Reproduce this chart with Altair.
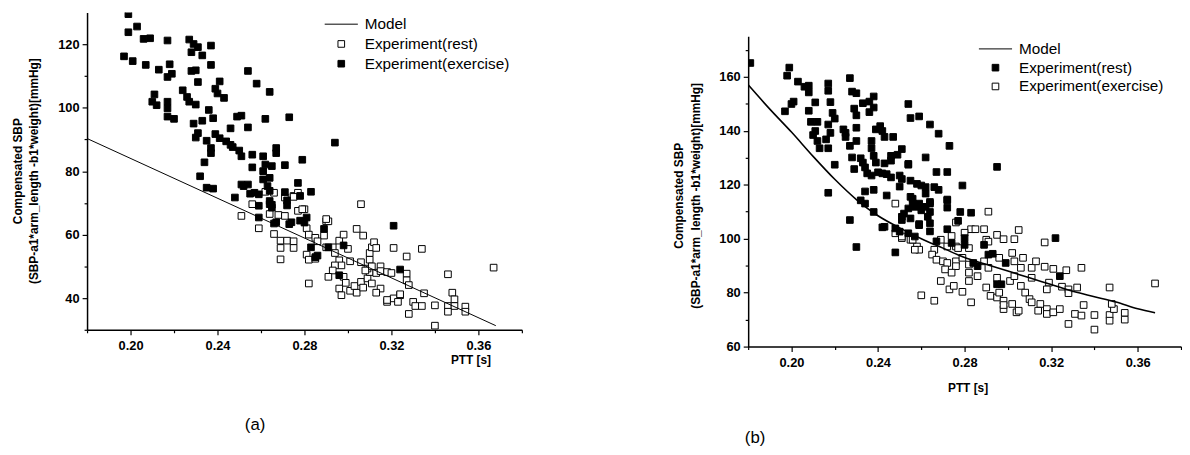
import altair as alt
import pandas as pd

# ---------------- data ----------------
SERIES = ["Model", "Experiment(rest)", "Experiment(exercise)"]

# panel (a)
left_rest_x = [0.251, 0.259, 0.256, 0.266, 0.275, 0.277, 0.264, 0.268, 0.271, 0.277, 0.280, 0.271,
               0.266, 0.269, 0.272, 0.275, 0.269, 0.275, 0.269, 0.281, 0.282, 0.285, 0.289, 0.290,
               0.291, 0.286, 0.290, 0.293, 0.281, 0.282, 0.285, 0.294, 0.296, 0.298, 0.300, 0.296,
               0.297, 0.301, 0.294, 0.293, 0.291, 0.298, 0.299, 0.296, 0.297, 0.301, 0.304, 0.303,
               0.306, 0.307, 0.309, 0.311, 0.315, 0.313, 0.310, 0.309, 0.304, 0.307, 0.306, 0.306,
               0.308, 0.310, 0.310, 0.311, 0.312, 0.313, 0.311, 0.315, 0.313, 0.315, 0.318, 0.320,
               0.321, 0.327, 0.327, 0.327, 0.334, 0.324, 0.321, 0.318, 0.323, 0.330, 0.331, 0.334,
               0.328, 0.335, 0.340, 0.340, 0.346, 0.348, 0.349, 0.346, 0.349, 0.346, 0.354, 0.354,
               0.367, 0.262, 0.275, 0.279, 0.290, 0.282, 0.328, 0.324, 0.318]
left_rest_y = [65.9, 62.0, 69.6, 73.2, 72.2, 73.2, 66.5, 66.2, 65.9, 67.5, 68.0, 71.7,
               60.2, 58.1, 58.1, 57.9, 55.8, 55.8, 52.2, 62.0, 60.0, 59.0, 59.7, 64.2,
               64.2, 57.9, 56.0, 56.0, 53.7, 52.1, 52.4, 54.2, 58.1, 60.0, 55.5, 51.9,
               50.3, 51.6, 50.3, 48.7, 46.7, 46.7, 44.8, 43.0, 40.9, 42.3, 41.7, 43.8,
               45.1, 43.3, 46.2, 44.6, 43.0, 41.7, 48.2, 49.3, 61.8, 59.7, 69.6, 51.3,
               48.7, 52.1, 54.2, 56.0, 57.6, 55.8, 50.0, 50.0, 47.9, 48.5, 48.2, 47.9,
               55.8, 53.1, 47.7, 45.6, 55.5, 40.9, 39.9, 38.8, 38.8, 38.8, 37.5, 37.5,
               35.0, 41.5, 37.7, 31.3, 47.5, 41.7, 39.6, 37.5, 37.5, 35.7, 37.3, 35.7,
               49.6, 73.5, 71.9, 68.0, 64.9, 44.6, 44.1, 41.2, 39.4]
left_ex_x = [0.199, 0.199, 0.203, 0.197, 0.201, 0.206, 0.209, 0.207, 0.213, 0.217, 0.218, 0.219,
             0.217, 0.211, 0.210, 0.212, 0.217, 0.217, 0.217, 0.220, 0.227, 0.229, 0.228, 0.231,
             0.233, 0.237, 0.237, 0.228, 0.230, 0.231, 0.224, 0.226, 0.227, 0.230, 0.239, 0.240,
             0.241, 0.243, 0.236, 0.238, 0.229, 0.233, 0.231, 0.230, 0.235, 0.237, 0.237, 0.234,
             0.232, 0.235, 0.238, 0.239, 0.241, 0.244, 0.246, 0.247, 0.250, 0.251, 0.246, 0.249,
             0.251, 0.254, 0.254, 0.258, 0.264, 0.262, 0.273, 0.248, 0.251, 0.254, 0.252, 0.255,
             0.257, 0.259, 0.256, 0.256, 0.261, 0.262, 0.261, 0.261, 0.264, 0.263, 0.264, 0.264,
             0.265, 0.267, 0.267, 0.265, 0.271, 0.271, 0.272, 0.277, 0.279, 0.283, 0.278, 0.294,
             0.259, 0.259, 0.265, 0.272, 0.266, 0.273, 0.281, 0.280, 0.289, 0.283, 0.286, 0.291,
             0.298, 0.296, 0.321, 0.324, 0.285, 0.264, 0.267, 0.274, 0.278]
left_ex_y = [129.5, 123.8, 125.6, 116.2, 114.7, 121.7, 121.9, 113.5, 112.0, 121.2, 113.7, 110.7,
             109.7, 104.2, 101.9, 100.8, 101.9, 99.8, 97.2, 96.5, 121.5, 120.1, 117.5, 119.1,
             116.5, 119.6, 113.5, 111.6, 111.8, 108.1, 105.5, 103.4, 101.9, 101.0, 106.0, 104.5,
             108.3, 103.1, 99.3, 96.7, 95.0, 95.9, 92.0, 90.6, 89.6, 87.3, 85.7, 82.8,
             78.4, 74.8, 74.5, 91.7, 90.4, 89.4, 88.3, 87.6, 86.5, 84.7, 93.5, 97.2,
             97.5, 93.8, 111.6, 107.6, 105.0, 96.5, 97.0, 71.7, 75.8, 75.8, 75.3, 72.9,
             73.2, 72.7, 85.2, 81.2, 84.7, 82.1, 80.0, 77.4, 77.9, 75.3, 73.8, 70.6,
             68.5, 87.3, 85.7, 81.6, 81.9, 73.4, 70.8, 76.3, 83.6, 73.5, 72.2, 89.0,
             65.4, 69.1, 69.4, 69.2, 63.5, 63.3, 65.4, 63.8, 61.8, 56.0, 53.4, 56.0,
             56.6, 47.2, 62.8, 49.0, 52.9, 69.6, 63.9, 63.9, 64.4]
left_model_x = [0.18, 0.368]
left_model_y = [90.3, 31.3]

# panel (b)
right_rest_x = [0.181, 0.199, 0.198, 0.203, 0.206, 0.208, 0.208, 0.201, 0.200, 0.197, 0.211, 0.208,
                0.209, 0.212, 0.211, 0.210, 0.212, 0.213, 0.217, 0.217, 0.218, 0.219, 0.220, 0.217,
                0.218, 0.216, 0.217, 0.220, 0.217, 0.224, 0.225, 0.225, 0.227, 0.227, 0.228, 0.230,
                0.229, 0.230, 0.233, 0.236, 0.238, 0.238, 0.236, 0.230, 0.230, 0.237, 0.241, 0.242,
                0.243, 0.247, 0.239, 0.237, 0.238, 0.239, 0.228, 0.232, 0.233, 0.229, 0.234, 0.235,
                0.237, 0.240, 0.242, 0.243, 0.246, 0.246, 0.249, 0.251, 0.254, 0.244, 0.246, 0.250,
                0.251, 0.255, 0.258, 0.260, 0.262, 0.266, 0.268, 0.250, 0.234, 0.238, 0.244, 0.254,
                0.255, 0.259, 0.264, 0.268, 0.262, 0.273, 0.267, 0.272, 0.279, 0.272, 0.272, 0.278,
                0.283, 0.232, 0.234, 0.238, 0.227, 0.243, 0.255, 0.256, 0.254, 0.257, 0.259, 0.260,
                0.262, 0.264, 0.264, 0.252, 0.251, 0.255, 0.259, 0.264, 0.263, 0.248, 0.230, 0.242,
                0.248, 0.250, 0.254, 0.257, 0.254, 0.295, 0.262, 0.256, 0.264, 0.258, 0.272, 0.277,
                0.251, 0.259, 0.272, 0.264, 0.280, 0.267, 0.274, 0.280, 0.289, 0.291, 0.293, 0.299,
                0.284, 0.286, 0.295, 0.297, 0.322, 0.324]
right_rest_y = [165.1, 163.4, 160.4, 158.2, 156.3, 156.7, 154.2, 150.8, 149.9, 147.2, 150.5, 147.4,
                143.3, 143.3, 139.9, 138.4, 136.2, 133.5, 157.5, 154.8, 150.6, 146.6, 144.5, 142.3,
                139.2, 136.8, 133.5, 127.4, 117.0, 140.5, 139.2, 137.7, 134.4, 159.5, 154.5, 153.9,
                148.2, 145.7, 150.2, 150.8, 152.7, 148.6, 146.9, 141.1, 136.2, 136.2, 141.7, 139.9,
                137.7, 137.7, 140.5, 133.5, 130.7, 128.2, 130.1, 129.8, 128.2, 125.8, 126.4, 124.2,
                123.4, 124.6, 124.2, 127.9, 130.7, 128.9, 131.1, 133.2, 127.7, 123.9, 122.7, 123.4,
                122.1, 121.5, 120.3, 119.7, 119.1, 119.1, 118.1, 119.3, 117.5, 118.1, 116.0, 149.9,
                144.7, 145.3, 142.3, 138.9, 130.1, 134.4, 124.7, 124.7, 119.7, 114.2, 111.5, 109.9,
                109.6, 114.2, 113.0, 109.9, 106.9, 104.4, 115.5, 113.0, 111.2, 111.8, 113.0, 110.5,
                111.8, 113.0, 109.9, 109.3, 108.1, 107.5, 105.4, 105.7, 108.1, 103.8, 96.9, 104.2,
                94.9, 102.6, 102.0, 100.8, 127.4, 126.6, 116.7, 114.8, 113.6, 112.4, 114.5, 106.6,
                106.9, 105.0, 103.5, 102.7, 100.2, 99.0, 98.4, 97.7, 97.7, 94.1, 94.4, 91.0,
                91.0, 89.8, 83.1, 83.1, 100.2, 86.1]
right_ex_x = [0.291, 0.283, 0.285, 0.289, 0.276, 0.280, 0.274, 0.251, 0.255, 0.258, 0.259, 0.269,
              0.272, 0.276, 0.277, 0.282, 0.266, 0.265, 0.267, 0.270, 0.272, 0.276, 0.279, 0.282,
              0.276, 0.271, 0.274, 0.282, 0.286, 0.282, 0.269, 0.273, 0.275, 0.279, 0.260, 0.266,
              0.283, 0.290, 0.292, 0.295, 0.296, 0.298, 0.298, 0.298, 0.302, 0.304, 0.305, 0.295,
              0.301, 0.303, 0.306, 0.308, 0.310, 0.311, 0.315, 0.314, 0.318, 0.318, 0.321, 0.324,
              0.328, 0.331, 0.334, 0.335, 0.340, 0.340, 0.347, 0.347, 0.349, 0.354, 0.354, 0.348,
              0.347, 0.368, 0.302, 0.303, 0.307, 0.306, 0.311, 0.313, 0.311, 0.317, 0.321, 0.327,
              0.334, 0.319, 0.318, 0.325, 0.328, 0.332, 0.328, 0.295, 0.298, 0.303, 0.305, 0.317,
              0.290, 0.291, 0.289, 0.291, 0.296, 0.248, 0.251, 0.256, 0.257, 0.248]
right_ex_y = [110.0, 103.5, 103.5, 103.5, 106.0, 102.2, 101.0, 100.2, 99.6, 97.1, 95.9, 99.6,
              97.1, 97.1, 96.5, 96.5, 95.9, 94.1, 92.2, 91.6, 91.0, 91.6, 92.9, 90.4,
              89.8, 88.6, 87.4, 87.4, 86.1, 84.3, 84.3, 81.2, 82.5, 80.3, 79.0, 77.0,
              76.4, 81.9, 78.8, 78.2, 80.0, 77.0, 73.9, 75.4, 75.8, 72.7, 73.3, 85.5,
              84.3, 86.1, 82.5, 80.0, 77.6, 76.4, 75.8, 73.3, 73.9, 72.1, 72.7, 73.9,
              68.4, 72.1, 71.5, 75.4, 71.7, 66.3, 71.7, 69.6, 73.9, 72.5, 70.0, 75.8,
              81.9, 83.4, 94.7, 91.6, 92.9, 89.2, 89.2, 91.6, 85.5, 89.6, 88.8, 88.3,
              89.2, 83.7, 81.2, 82.2, 81.2, 81.9, 79.8, 101.4, 99.8, 99.8, 103.2, 98.6,
              99.6, 98.9, 91.6, 89.2, 92.9, 102.0, 100.8, 99.6, 95.9, 113.0]
right_model_x = [0.18, 0.19, 0.20, 0.21, 0.22, 0.23, 0.24, 0.25, 0.26, 0.27, 0.28, 0.29,
                 0.30, 0.31, 0.32, 0.33, 0.34, 0.35, 0.36, 0.368]
right_model_y = [157, 148, 139.5, 130.5, 122, 114.5, 108.5, 104, 100, 96.5, 93, 90.5,
                 88, 85.5, 83, 80.5, 78.5, 76.5, 74, 72.5]

x_ticks = [0.18, 0.20, 0.22, 0.24, 0.26, 0.28, 0.30, 0.32, 0.34, 0.36, 0.38]
left_y_ticks = [30, 40, 50, 60, 70, 80, 90, 100, 110, 120]
right_y_ticks = [60, 70, 80, 90, 100, 110, 120, 130, 140, 150, 160, 170]

FONT = "Liberation Sans"
X_MAJOR = "round(datum.value*100) % 4 == 0"
Y_MAJOR = "round(datum.value) % 20 == 0"


def panel(open_x, open_y, open_name, fill_x, fill_y, fill_name, mx, my,
          ydom, yticks, width, height, yrange, fill_range, ytitle_y,
          xtitle_x, xtitle_y, leg_x, leg_y, row_pad, label, label_dx,
          label_offset, line_w):
    pts = pd.DataFrame({
        "ptt": open_x + fill_x,
        "sbp": open_y + fill_y,
        "series": [open_name] * len(open_x) + [fill_name] * len(fill_x),
    })
    model = pd.DataFrame({"ptt": mx, "sbp": my})

    xs = alt.Scale(domain=[0.18, 0.38], nice=False, zero=False)
    ys = alt.Scale(domain=ydom, nice=False, zero=False, range=yrange)

    common = dict(grid=False, domainColor="black", domainWidth=1.5,
                  tickColor="black", tickWidth=1.2, labelColor="black",
                  labelFont=FONT, labelFontSize=13, labelFontWeight="bold",
                  labelFlush=False, labelOverlap=False,
                  titleFont=FONT, titleFontSize=12, titleFontWeight="bold",
                  titleColor="black")
    xaxis = alt.Axis(values=x_ticks, title="PTT [s]", labelPadding=5,
                     labelExpr=f"{X_MAJOR} ? format(datum.value, '.2f') : ''",
                     tickSize={"condition": {"test": X_MAJOR, "value": 5}, "value": 3},
                     titleX=xtitle_x, titleY=xtitle_y, **common)
    yaxis = alt.Axis(values=yticks, labelPadding=3,
                     title=["Compensated SBP", "(SBP-a1*arm_length -b1*weight)[mmHg]"],
                     labelExpr=f"{Y_MAJOR} ? format(datum.value, 'd') : ''",
                     tickSize={"condition": {"test": Y_MAJOR, "value": 5}, "value": 3},
                     titlePadding=17, titleLineHeight=17, titleY=ytitle_y, **common)

    leg = alt.Legend(title=None, orient="none", legendX=leg_x, legendY=leg_y,
                     symbolSize=45, symbolStrokeColor="black", symbolStrokeWidth=1,
                     symbolOpacity=1, labelFont=FONT, labelFontSize=15.5,
                     labelColor="black", labelOffset=16, labelLimit=400,
                     rowPadding=row_pad, padding=0)

    points = alt.Chart(pts).mark_point(
        filled=True, strokeWidth=1, size=45, opacity=1, clip=True
    ).encode(
        x=alt.X("ptt:Q", scale=xs, axis=xaxis),
        y=alt.Y("sbp:Q", scale=ys, axis=yaxis),
        shape=alt.Shape("series:N",
                        scale=alt.Scale(domain=SERIES,
                                        range=["M-5,0L5,0", "square", "square"]),
                        legend=leg),
        fill=alt.Fill("series:N",
                      scale=alt.Scale(domain=SERIES, range=fill_range),
                      legend=leg),
        stroke=alt.Stroke("series:N",
                          scale=alt.Scale(domain=SERIES,
                                          range=["black", "black", "black"]),
                          legend=leg),
    )
    line = alt.Chart(model).mark_line(
        color="black", strokeWidth=line_w, interpolate="monotone", clip=True
    ).encode(x=alt.X("ptt:Q", scale=xs, axis=xaxis),
             y=alt.Y("sbp:Q", scale=ys, axis=yaxis))

    return alt.layer(points, line).properties(
        width=width, height=height,
        title=alt.Title(label, orient="bottom", anchor="middle", frame="group",
                        dx=label_dx, offset=label_offset, font=FONT,
                        fontSize=17, fontWeight="normal", color="black"))


left = panel(left_rest_x, left_rest_y, "Experiment(rest)",
             left_ex_x, left_ex_y, "Experiment(exercise)",
             left_model_x, left_model_y,
             ydom=[30, 130], yticks=left_y_ticks, width=440, height=321,
             yrange=[321, 0], fill_range=["black", "white", "black"],
             ytitle_y=160, xtitle_x=388, xtitle_y=25,
             leg_x=249.5, leg_y=4, row_pad=3, label="(a)", label_dx=-50,
             label_offset=52, line_w=1)

right = panel(right_ex_x, right_ex_y, "Experiment(exercise)",
              right_rest_x, right_rest_y, "Experiment(rest)",
              right_model_x, right_model_y,
              ydom=[60, 175], yticks=right_y_ticks, width=438, height=338,
              yrange=[338, 24], fill_range=["black", "black", "white"],
              ytitle_y=185, xtitle_x=222, xtitle_y=36,
              leg_x=242.5, leg_y=29, row_pad=2, label="(b)", label_dx=-212,
              label_offset=38, line_w=1.6)

chart = alt.hconcat(left, right, spacing=151).resolve_scale(
    x="independent", y="independent", shape="independent", fill="independent",
    stroke="independent"
).resolve_legend(
    shape="independent", fill="independent", stroke="independent"
).configure_view(stroke=None).properties(
    padding={"left": 3, "top": 2, "right": 0, "bottom": 0})

chart.save("out.html", embed_options={"renderer": "svg", "actions": False})
